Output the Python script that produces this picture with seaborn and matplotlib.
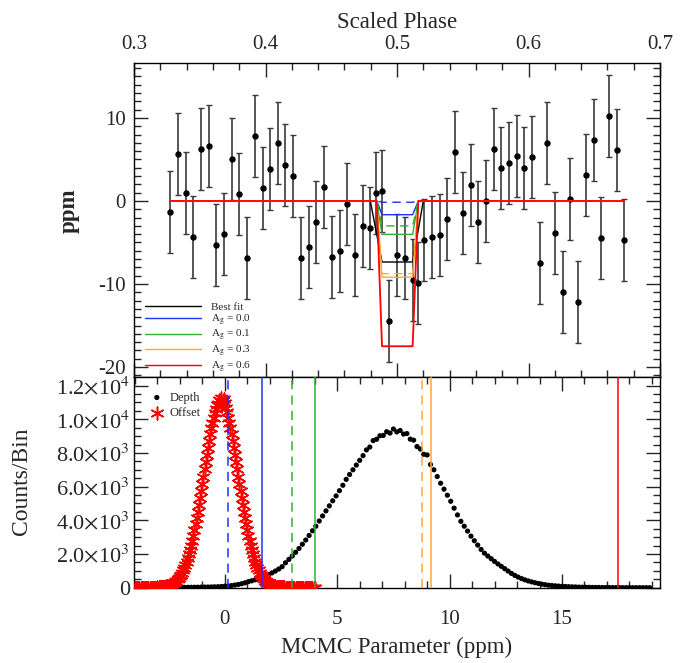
import numpy as np
import pandas as pd

import matplotlib
matplotlib.use('Agg')

import matplotlib.pyplot as plt
import seaborn as sns
from matplotlib.ticker import MultipleLocator, FuncFormatter
from matplotlib.lines import Line2D

# ---- top panel: binned light curve around secondary eclipse
phase = [0.3276, 0.3335, 0.3393, 0.3451, 0.3510, 0.3568, 0.3626, 0.3684, 0.3743, 0.3801,
         0.3859, 0.3920, 0.3979, 0.4034, 0.4093, 0.4151, 0.4211, 0.4270, 0.4329, 0.4386,
         0.4445, 0.4506, 0.4564, 0.4622, 0.4681, 0.4739, 0.4797, 0.4843, 0.4886, 0.4941,
         0.5002, 0.5061, 0.5119, 0.5162, 0.5208, 0.5266, 0.5325, 0.5383, 0.5441, 0.5500,
         0.5561, 0.5618, 0.5677, 0.5735, 0.5793, 0.5852, 0.5910, 0.5968, 0.6027, 0.6085,
         0.6143, 0.6202, 0.6260, 0.6318, 0.6376, 0.6437, 0.6496, 0.6554, 0.6612, 0.6671,
         0.6729]
flux = [-1.29, 5.66, 0.92, -4.34, 6.22, 6.63, -5.34, -3.98, 5.02, 0.88,
        -6.83, 7.83, 1.57, 3.90, 7.03, 4.38, 3.01, -6.83, -5.50, -2.49,
        1.73, -6.71, -5.98, -0.33, -6.55, -2.97, -3.29, 1.00, 1.20, -14.46,
        -6.55, -6.87, -9.52, -9.84, -4.70, -4.38, -4.14, -2.17, 5.86, -1.49,
        1.93, -2.53, 0.04, 6.27, 4.02, 4.54, 5.42, 3.94, 5.34, -7.43,
        7.03, -3.81, -10.92, 0.28, -12.13, 3.09, 7.35, -4.50, 10.28, 6.10,
        -4.66]
flux_err = 4.95

# eclipse model contact points (phase)
best_phase = [0.3276, 0.4797, 0.4886, 0.5119, 0.5200, 0.6729]
ag_phase = [0.3276, 0.4846, 0.4886, 0.5119, 0.5162, 0.6729]
best_depth = 7.35

ag_labels = ['0.0', '0.1', '0.3', '0.6']
ag_colors = ['#2030ff', '#30b030', '#ffaa33', '#ff0000']
ag_depth = [1.65, 4.02, 9.18, 17.5]
ag_depth_alt = [0.15, 3.0, 8.75, None]

# ---- bottom panel: MCMC histograms
depth_start, depth_step = -2.4, 0.15
depth_counts = [15, 16, 18, 20, 21, 23, 25, 27, 30, 34,
                38, 41, 45, 52, 60, 70, 88, 105, 128, 157,
                193, 236, 290, 360, 410, 470, 545, 620, 700, 785,
                880, 990, 1110, 1250, 1480, 1680, 1880, 2100, 2330, 2580,
                2830, 3100, 3380, 3650, 3960, 4260, 4560, 4860, 5160, 5450,
                5760, 6080, 6430, 6720, 7000, 7280, 7560, 7840, 8180, 8350,
                8730, 8810, 9020, 9040, 9260, 9180, 9420, 9250, 9330, 9120,
                9150, 8820, 8760, 8380, 8230, 7920, 7880, 7310, 7000, 6600,
                6200, 5850, 5490, 5130, 4720, 4320, 3940, 3650, 3360, 3060,
                2790, 2530, 2270, 2050, 1880, 1720, 1560, 1410, 1270, 1130,
                990, 850, 730, 630, 540, 465, 400, 345, 295, 250,
                210, 180, 150, 130, 112, 96, 83, 71, 61, 52,
                45, 37, 31, 26, 22, 18, 15, 13, 11, 10,
                8, 7, 6, 5, 4, 3, 3, 2, 2, 1,
                1, 1, 0]
offset_start, offset_step = -4.0, 0.05
offset_counts = [0, 0, 0, 0, 0, 0, 0, 0, 0, 0,
                 1, 1, 2, 2, 3, 4, 5, 7, 9, 11,
                 14, 18, 22, 28, 35, 43, 53, 66, 80, 98,
                 119, 145, 175, 210, 251, 298, 354, 418, 491, 576,
                 671, 780, 902, 1040, 1194, 1364, 1553, 1759, 1988, 2233,
                 2502, 2789, 3097, 3425, 3771, 4137, 4515, 4912, 5318, 5739,
                 6165, 6600, 7030, 7462, 7892, 8308, 8714, 9098, 9455, 9794,
                 10101, 10374, 10611, 10850, 10920, 11120, 11090, 11250, 11060, 11180,
                 10980, 10650, 10420, 10101, 9794, 9455, 9098, 8714, 8308, 7892,
                 7462, 7030, 6600, 6165, 5739, 5318, 4912, 4515, 4137, 3771,
                 3425, 3097, 2789, 2502, 2233, 1988, 1759, 1553, 1364, 1194,
                 1040, 902, 780, 671, 576, 491, 418, 354, 298, 251,
                 210, 175, 145, 119, 98, 80, 66, 53, 43, 35,
                 28, 22, 18, 14, 11, 9, 7, 5, 4, 3,
                 2, 2, 1, 1, 1, 0, 0, 0, 0, 0,
                 0, 0, 0, 0, 0, 0, 0, 0, 0, 0,
                 0]

depth_df = pd.DataFrame({'ppm': depth_start + depth_step * np.arange(len(depth_counts)),
                         'counts': depth_counts})
offset_df = pd.DataFrame({'ppm': offset_start + offset_step * np.arange(len(offset_counts)),
                          'counts': offset_counts})

sns.set_style('ticks')
plt.rcParams['font.family'] = ['Liberation Serif', 'DejaVu Serif']
plt.rcParams['mathtext.fontset'] = 'stix'
plt.rcParams['axes.unicode_minus'] = False
plt.rcParams['axes.linewidth'] = 1.0

fig = plt.figure(figsize=(6.89, 6.63), dpi=100)
left, width = 134 / 689, 526 / 689
ax1 = fig.add_axes([left, 1 - 377.3 / 663, width, 314.6 / 663])
ax2 = fig.add_axes([left, 1 - 587.7 / 663, width, 210.4 / 663])

tick_fs = 15
label_fs = 16.5

# ---- top panel
ax1.errorbar(phase, flux, yerr=flux_err, fmt='o', color='black', ecolor='#3a3a3a',
             elinewidth=1.2, capsize=2.3, capthick=1.0, markersize=3.6, zorder=2)

def model(ph, depth):
    return pd.DataFrame({'phase': ph, 'ppm': [0, 0, -depth, -depth, 0, 0]})

sns.lineplot(data=model(best_phase, best_depth), x='phase', y='ppm', color='black',
             lw=1.0, sort=False, estimator=None, ax=ax1, zorder=3)
for col, d, d2 in zip(ag_colors, ag_depth, ag_depth_alt):
    if d2 is not None:
        sns.lineplot(data=model(ag_phase, d2), x='phase', y='ppm', color=col, lw=1.0,
                     sort=False, estimator=None, ax=ax1, zorder=3)
        ax1.lines[-1].set_dashes([6, 4])
    sns.lineplot(data=model(ag_phase, d), x='phase', y='ppm', color=col,
                 lw=1.3 if col == '#ff0000' else 1.0,
                 sort=False, estimator=None, ax=ax1, zorder=4 if col == '#ff0000' else 3)

ax1.set_xlim(0.3, 0.7)
ax1.set_ylim(-21.24, 16.66)
ax1.xaxis.set_major_locator(MultipleLocator(0.1))
ax1.xaxis.set_minor_locator(MultipleLocator(0.02))
ax1.yaxis.set_major_locator(MultipleLocator(10))
ax1.yaxis.set_minor_locator(MultipleLocator(1))
ax1.xaxis.set_major_formatter(FuncFormatter(lambda v, p: f'{v:.1f}'))
ax1.tick_params(axis='both', which='both', direction='in', top=True, bottom=True,
                left=True, right=True, labeltop=True, labelbottom=False,
                labelsize=tick_fs, width=1.0)
ax1.tick_params(axis='both', which='major', length=10)
ax1.tick_params(axis='both', which='minor', length=5)
ax1.tick_params(axis='x', which='major', pad=6)
ax1.tick_params(axis='y', which='major', pad=6)
ax1.xaxis.set_label_position('top')
ax1.set_xlabel('Scaled Phase', fontsize=label_fs, labelpad=5)
ax1.set_ylabel('ppm', fontsize=label_fs, fontweight='bold')
ax1.yaxis.set_label_coords(-0.103, 0.53)

handles = [Line2D([], [], color='black', lw=1.0)]
handles += [Line2D([], [], color=c, lw=1.0) for c in ag_colors]
labels = ['Best fit'] + [r'A$_{\rm g}$ = ' + a for a in ag_labels]
ax1.legend(handles, labels, loc='lower left', bbox_to_anchor=(0.016, 0.0),
           frameon=False, fontsize=8, handlelength=5.0, handletextpad=0.9,
           labelspacing=0.05, borderaxespad=0.05, borderpad=0.2)

# ---- bottom panel
sns.scatterplot(data=depth_df, x='ppm', y='counts', color='black', s=14,
                edgecolor='none', ax=ax2, label='Depth', zorder=2)
sns.scatterplot(data=offset_df, x='ppm', y='counts', marker=(6, 2, 0), color='red',
                s=85, linewidth=1.1, ax=ax2, label='Offset', zorder=3)

for col, d, d2 in zip(ag_colors, ag_depth, ag_depth_alt):
    ax2.axvline(d, color=col, lw=1.1, zorder=4)
    if d2 is not None:
        ax2.axvline(d2, color=col, lw=1.1, dashes=[6, 4], zorder=4)

ax2.set_xlim(-4.04, 19.36)
ax2.set_ylim(0, 12490)
ax2.xaxis.set_major_locator(MultipleLocator(5))
ax2.xaxis.set_minor_locator(MultipleLocator(1))
ax2.yaxis.set_major_locator(MultipleLocator(2000))
ax2.yaxis.set_minor_locator(MultipleLocator(500))

def count_fmt(v, p):
    if v <= 0:
        return '0' if abs(v) < 1e-9 else ''
    e = int(np.floor(np.log10(v)))
    return r'%.1f$\times$10$^{%d}$' % (v / 10 ** e, e)

ax2.yaxis.set_major_formatter(FuncFormatter(count_fmt))
ax2.tick_params(axis='both', which='both', direction='in', top=True, bottom=True,
                left=True, right=True, labelsize=tick_fs, width=1.0)
ax2.tick_params(axis='both', which='major', length=10)
ax2.tick_params(axis='both', which='minor', length=5)
ax2.tick_params(axis='x', which='major', pad=16)
ax2.tick_params(axis='y', which='major', pad=3, labelsize=16)
ax2.set_xlabel('MCMC Parameter (ppm)', fontsize=label_fs, labelpad=6)
ax2.set_ylabel('Counts/Bin', fontsize=17)
ax2.yaxis.set_label_coords(-0.194, 0.504)
ax2.legend(loc='upper left', bbox_to_anchor=(0.022, 0.955), frameon=False, fontsize=9,
           handlelength=1.0, handletextpad=0.5, labelspacing=0.25, borderaxespad=0.0)

for ax in (ax1, ax2):
    for s in ax.spines.values():
        s.set_color('black')

plt.savefig('out.png', dpi=100)
plt.close()
